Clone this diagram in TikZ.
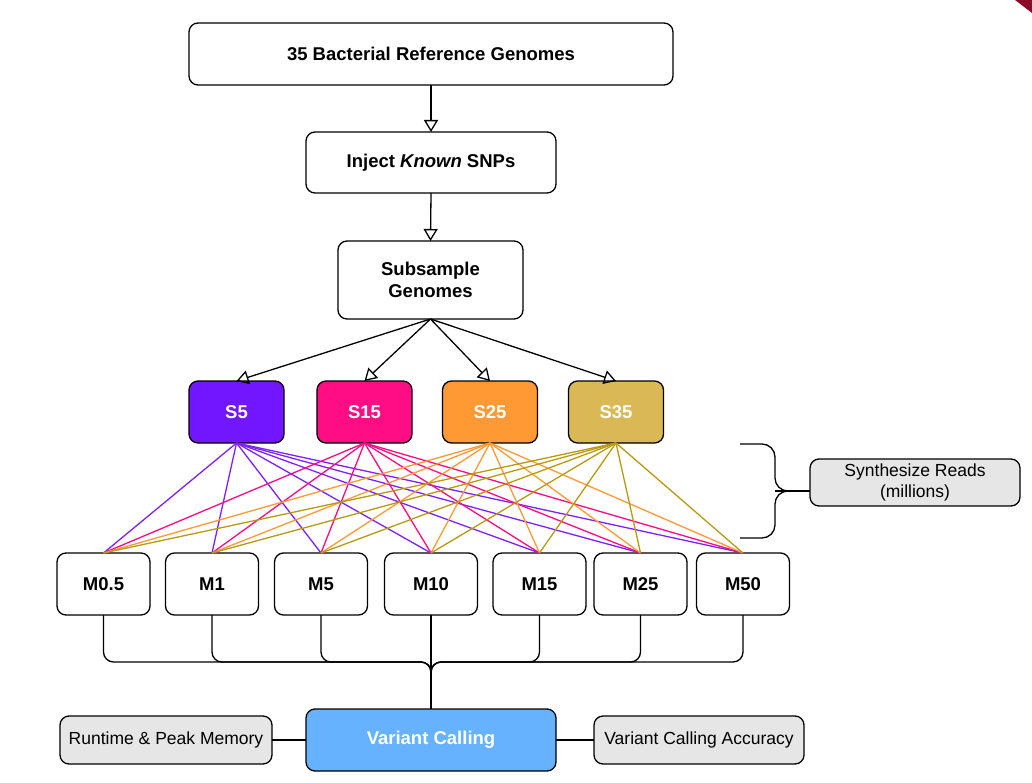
\documentclass[tikz,border=0pt]{standalone}
\usepackage{fontspec}
\setmainfont{Liberation Sans}
\usetikzlibrary{arrows.meta,calc}
\definecolor{sfivefill}{HTML}{7116FF}
\definecolor{sfifteenfill}{HTML}{FF0D85}
\definecolor{stwentyfivefill}{HTML}{FF9933}
\definecolor{sthirtyfivefill}{HTML}{D9B855}
\definecolor{sfiveline}{HTML}{7F1FFF}
\definecolor{sfifteenline}{HTML}{FF0A84}
\definecolor{stwentyfiveline}{HTML}{FF9933}
\definecolor{sthirtyfiveline}{HTML}{B8990F}
\definecolor{vcfill}{HTML}{66B2FF}
\definecolor{greyfill}{HTML}{E6E6E6}
\definecolor{cornerred}{HTML}{8C0A28}
\begin{document}
\begin{tikzpicture}[x=1pt,y=-1pt,
  box/.style={draw=black, line width=1.3pt, rounded corners=9pt, fill=white,
    inner sep=0pt, outer sep=0pt, font=\fontsize{18.5}{22}\selectfont\bfseries, align=center},
  sbox/.style={box, minimum width=95pt, minimum height=62pt, text=white},
  mbox/.style={box, minimum width=93pt, minimum height=62pt},
  gbox/.style={box, fill=greyfill, font=\fontsize{17.5}{21}\selectfont, minimum height=48pt},
  conn/.style={draw=black, line width=1.3pt},
  arr/.style={conn, -{Triangle[open, length=12pt, width=14pt, line width=1.3pt]}},
  fan/.style={line width=1.3pt}
]
\useasboundingbox (0,0) rectangle (1032,783);
\fill[cornerred] (1015,0) -- (1032,0) -- (1032,13) -- cycle;

% main flow
\node[box, minimum width=484pt, minimum height=62pt] (top) at (431,54) {35 Bacterial Reference Genomes};
\node[box, minimum width=250pt, minimum height=61pt] (inj) at (431,162.5) {Inject \textit{Known} SNPs};
\node[box, minimum width=185pt, minimum height=78pt] (sub) at (430.5,280) {Subsample\\Genomes};

\node[sbox, fill=sfivefill] (S5) at (236.5,412) {S5};
\node[sbox, fill=sfifteenfill] (S15) at (364.5,412) {S15};
\node[sbox, fill=stwentyfivefill] (S25) at (490,412) {S25};
\node[sbox, fill=sthirtyfivefill] (S35) at (616,412) {S35};

\node[mbox] (M0) at (103.5,584) {M0.5};
\node[mbox] (M1) at (212,584) {M1};
\node[mbox] (M5) at (321,584) {M5};
\node[mbox] (M10) at (431,584) {M10};
\node[mbox] (M15) at (539.5,584) {M15};
\node[mbox] (M25) at (640.5,584) {M25};
\node[mbox] (M50) at (743,584) {M50};

\node[box, fill=vcfill, text=white, minimum width=250pt, minimum height=62pt] (vc) at (431,740) {Variant Calling};
\node[gbox, minimum width=212pt] (rt) at (166,740) {Runtime \& Peak Memory};
\node[gbox, minimum width=210pt] (acc) at (699,740) {Variant Calling Accuracy};
\node[gbox, minimum width=210pt, minimum height=47pt] (syn) at (915,482.5) {Synthesize Reads\\(millions)};

% arrows
\draw[arr] (top.south) -- (inj.north);
\draw[arr] (inj.south) -- (sub.north);
\foreach \s in {S5,S15,S25,S35} \draw[arr] (sub.south) -- (\s.north);

% fan-out lines
\foreach \s/\c in {S5/sfiveline,S15/sfifteenline,S25/stwentyfiveline,S35/sthirtyfiveline}
  \foreach \m in {M0,M1,M5,M10,M15,M25,M50}
    \draw[fan, draw=\c] (\s.south) -- (\m.north);

% brace
\coordinate (bt) at (740,444);
\coordinate (bb) at (740,538);
\coordinate (btip) at (775,491);
\draw[conn, rounded corners=13pt] (bt) -- (775,444) -- (btip) -- (790,491);
\draw[conn, rounded corners=13pt] (bb) -- (775,538) -- (btip) -- (790,491);
\draw[conn] (btip) -- (syn.west |- btip);

% merge to variant calling
\coordinate (J) at (431,672);
\coordinate (H) at (431,662);
\foreach \m in {M0,M1,M5,M15,M25,M50}
  \draw[conn, rounded corners=10pt] (\m.south) |- (H) -- (J);
\draw[conn] (M10.south) -- (vc.north);

% side links
\draw[conn] (rt.east) -- (vc.west);
\draw[conn] (vc.east) -- (acc.west);
\end{tikzpicture}
\end{document}
